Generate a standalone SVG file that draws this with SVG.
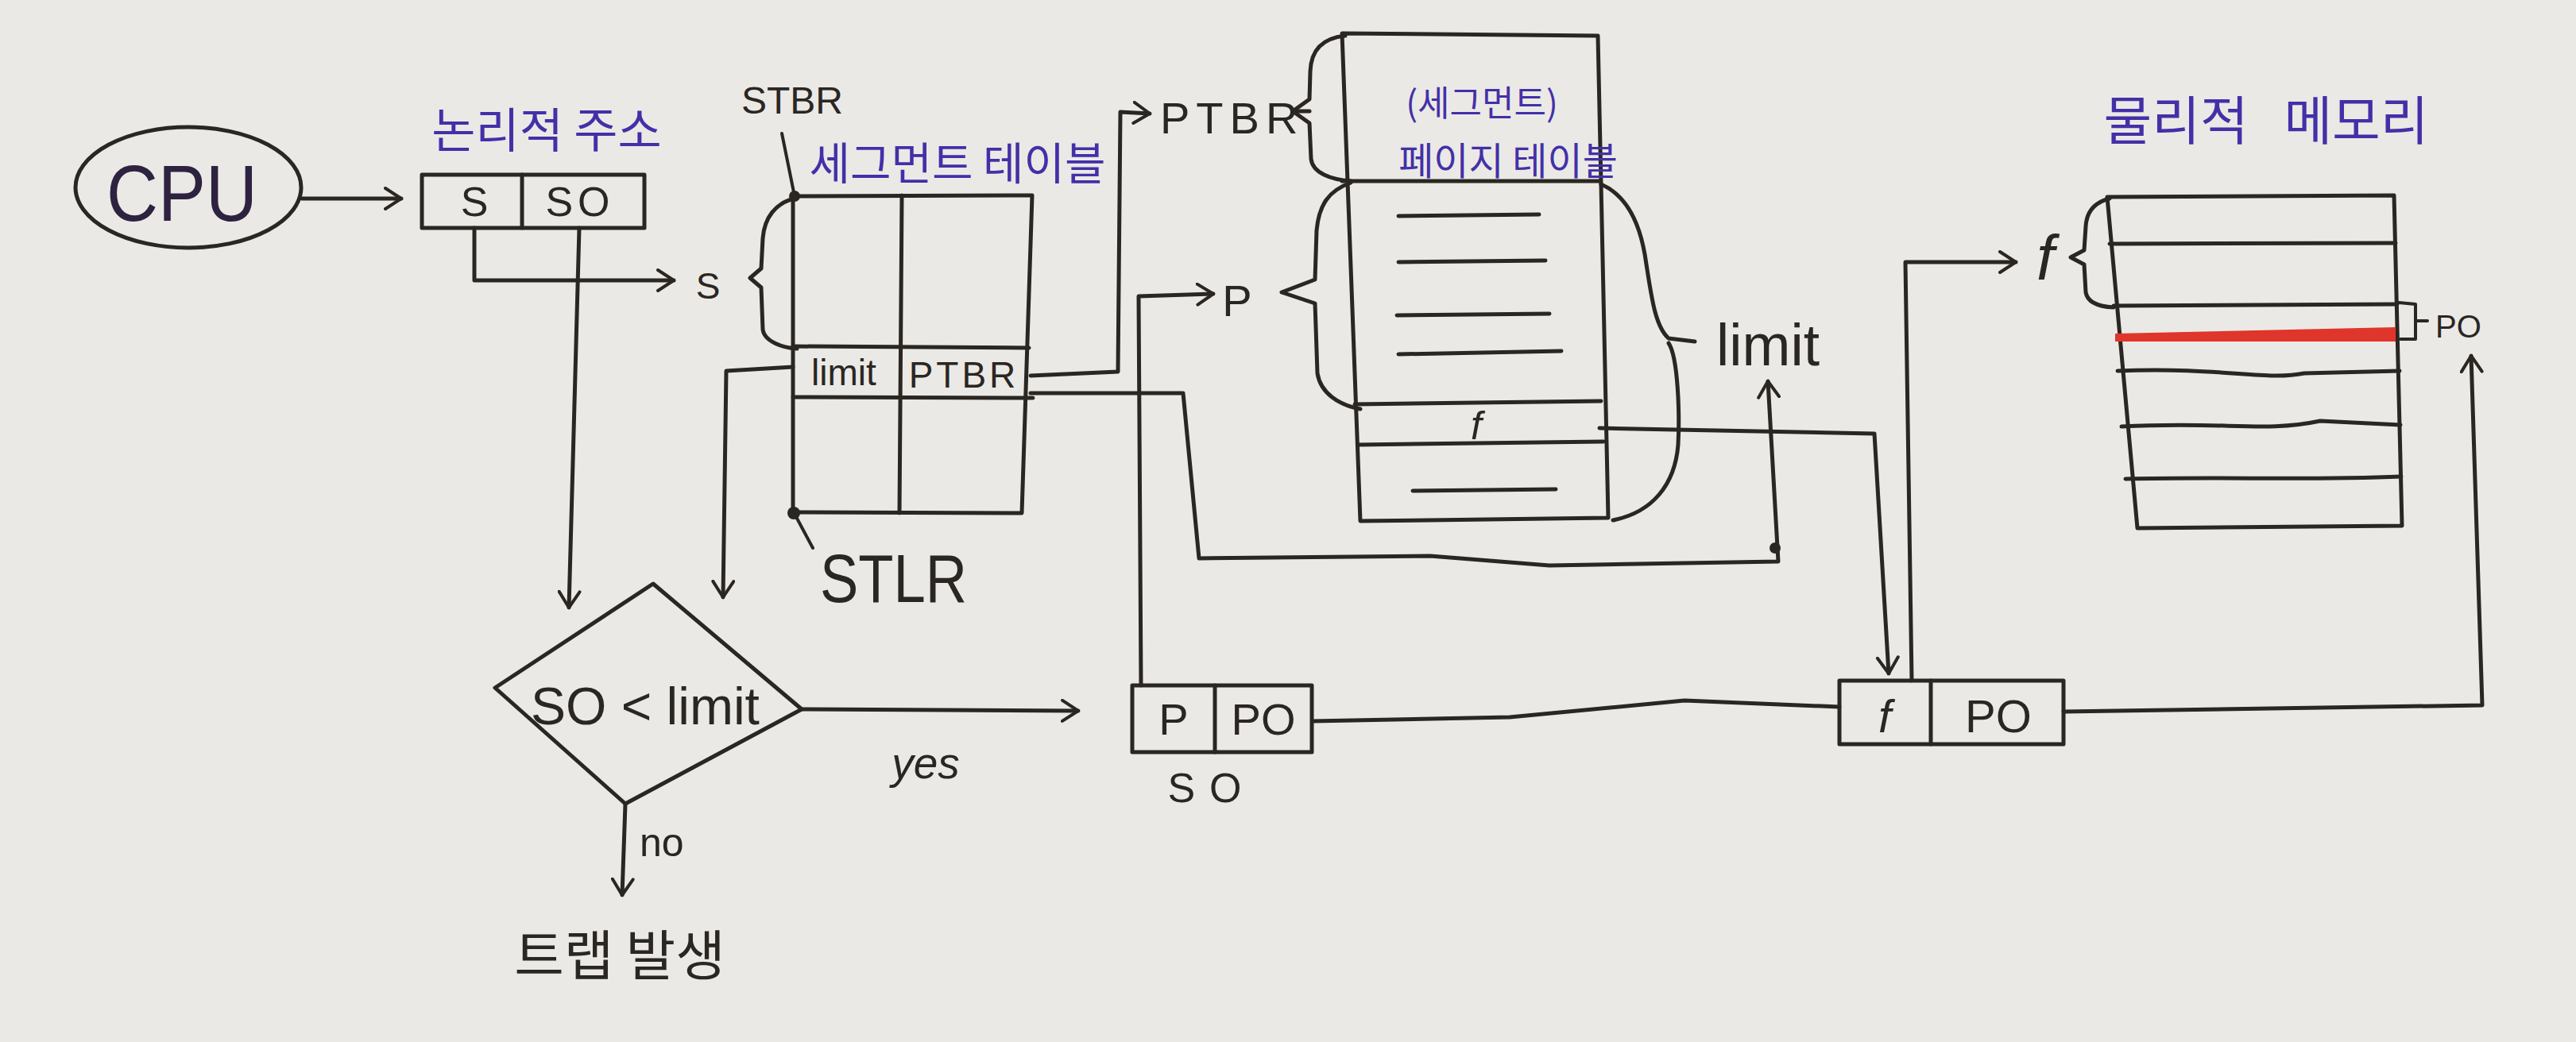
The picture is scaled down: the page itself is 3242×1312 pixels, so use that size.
<svg xmlns="http://www.w3.org/2000/svg" width="3242" height="1312" viewBox="0 0 3242 1312">
<defs>
<style>
.ink{stroke:#2a2622;stroke-width:5;fill:none;stroke-linecap:round;stroke-linejoin:round}
.thin{stroke:#2a2622;stroke-width:4;fill:none;stroke-linecap:round;stroke-linejoin:round}
.t{font-family:"Liberation Sans","Noto Sans CJK KR",sans-serif;fill:#2a2622}
.kb{font-family:"Noto Sans CJK KR","Noto Sans",sans-serif;fill:#2a2622}
.kp{font-family:"Noto Sans CJK KR","Noto Sans",sans-serif;fill:#4330a8}
.dot{fill:#2a2622}
</style>
<marker id="arr" viewBox="0 0 24 30" refX="22" refY="15" markerWidth="24" markerHeight="30" markerUnits="userSpaceOnUse" orient="auto">
<path d="M2,2 L22,15 L2,28" fill="none" stroke="#2a2622" stroke-width="4" stroke-linecap="round" stroke-linejoin="round"/>
</marker>
</defs>
<rect x="0" y="0" width="3242" height="1312" fill="#ebe9e5"/>

<g id="cpu">
<ellipse class="ink" cx="237" cy="236" rx="142" ry="76"/>
<text x="134" y="278" font-family="Liberation Sans, sans-serif" font-size="100" textLength="190" lengthAdjust="spacingAndGlyphs" fill="#2d2340">CPU</text>
</g>

<g id="logical-address">
<text class="kp" x="688" y="186" font-size="60" text-anchor="middle">논리적 주소</text>
<rect class="ink" x="531" y="220" width="280" height="67"/>
<line class="ink" x1="657" y1="220" x2="657" y2="287"/>
<text class="t" x="597" y="272" font-size="52" text-anchor="middle">S</text>
<text class="t" x="730" y="272" font-size="52" text-anchor="middle" letter-spacing="6">SO</text>
</g>

<g id="segment-table">
<text class="t" x="997" y="143" font-size="48" text-anchor="middle">STBR</text>
<text class="kp" x="1205" y="226" font-size="56" text-anchor="middle">세그먼트 테이블</text>
<path class="ink" d="M998,247 L1299,246 L1286,646 L998,645 Z"/>
<line class="ink" x1="1135" y1="246" x2="1132" y2="646"/>
<path class="ink" d="M998,436 L1295,438"/>
<path class="ink" d="M998,500 L1300,501"/>
<text class="t" x="1062" y="485" font-size="46" text-anchor="middle">limit</text>
<text class="t" x="1213" y="488" font-size="46" text-anchor="middle" letter-spacing="4">PTBR</text>
<line class="thin" x1="984" y1="168" x2="1000" y2="247"/>
<circle class="dot" cx="1000" cy="247" r="7"/>
<path class="ink" d="M1003,249 C975,255 962,275 960,300 L958,338 L944,350 L958,362 L960,415 C962,430 985,438 1003,439"/>
<text class="t" x="891" y="376" font-size="46" text-anchor="middle">S</text>
<line class="thin" x1="1023" y1="690" x2="1000" y2="647"/>
<circle class="dot" cx="999" cy="646" r="8"/>
<text class="t" x="1032" y="758" font-size="86" textLength="185" lengthAdjust="spacingAndGlyphs">STLR</text>
</g>

<g id="page-table">
<text class="t" x="1460" y="168" font-size="56" letter-spacing="8">PTBR</text>
<line class="ink" x1="1627" y1="140" x2="1648" y2="140"/>
<text class="t" x="1557" y="398" font-size="56" text-anchor="middle">P</text>
<path class="ink" d="M1693,45 C1665,48 1650,62 1649,90 L1648,125 L1627,140 L1648,155 L1650,200 C1652,218 1675,226 1700,228"/>
<path class="ink" d="M1700,230 C1672,240 1660,258 1657,290 L1655,352 L1613,368 L1655,382 L1658,470 C1662,495 1685,510 1712,515"/>
<path class="ink" d="M1689,42 L2011,45 L2024,652 L1712,656 Z"/>
<line class="ink" x1="1689" y1="228" x2="2013" y2="228"/>
<text class="kp" x="1865" y="146" font-size="44" text-anchor="middle">(세그먼트)</text>
<text class="kp" x="1898" y="220" font-size="48" text-anchor="middle">페이지 테이블</text>
<path class="ink" d="M1760,272 L1937,270"/>
<path class="ink" d="M1760,330 L1945,328"/>
<path class="ink" d="M1758,397 L1950,395"/>
<path class="ink" d="M1760,446 L1965,442"/>
<path class="ink" d="M1705,509 L2015,505"/>
<path class="ink" d="M1709,560 L2018,556"/>
<path class="ink" d="M1778,618 L1958,616"/>
<text class="t" x="1858" y="553" font-size="50" text-anchor="middle" font-style="italic">f</text>
<path class="ink" d="M2015,232 C2045,245 2062,275 2070,320 C2078,370 2082,410 2100,426 L2133,430"/>
<path class="ink" d="M2100,432 C2112,450 2114,520 2112,560 C2108,610 2080,645 2030,655"/>
<text class="t" x="2160" y="460" font-size="74" textLength="130" lengthAdjust="spacingAndGlyphs">limit</text>
</g>

<g id="physical-memory">
<text class="kp" x="2852" y="176" font-size="66" text-anchor="middle" word-spacing="30">물리적 메모리</text>
<path class="ink" d="M2652,248 L3013,246 L3023,662 L2690,665 Z"/>
<path class="ink" d="M2655,307 L3015,306"/>
<path class="ink" d="M2660,385 L3017,383"/>
<path d="M2662,420 L3015,412 L3015,430 L2662,430 Z" fill="#e0352b"/>
<path class="ink" d="M2665,467 C2800,462 2850,480 2900,470 L3020,467"/>
<path class="ink" d="M2670,537 C2800,530 2850,545 2920,530 L3021,535"/>
<path class="ink" d="M2675,603 C2800,600 2900,605 3022,600"/>
<path class="ink" d="M2655,250 C2635,255 2626,268 2625,285 L2623,315 L2606,324 L2623,333 L2625,368 C2627,380 2640,386 2660,387"/>
<text class="t" x="2574" y="352" font-size="80" text-anchor="middle" font-style="italic">f</text>
<path class="thin" d="M3019,381 L3040,383 L3040,427 L3021,427 M3040,404 L3055,404"/>
<text class="t" x="3065" y="425" font-size="40">PO</text>
</g>

<g id="decision">
<polygon class="ink" points="822,735 1009,893 787,1012 623,866"/>
<text class="t" x="812" y="912" font-size="66" text-anchor="middle">SO &lt; limit</text>
</g>

<g id="trap">
<text class="t" x="805" y="1078" font-size="50">no</text>
<text class="kb" x="780" y="1228" font-size="68" text-anchor="middle">트랩 발생</text>
</g>

<g id="ppo-box">
<rect class="ink" x="1425" y="863" width="226" height="84"/>
<line class="ink" x1="1529" y1="863" x2="1529" y2="947"/>
<text class="t" x="1477" y="925" font-size="56" text-anchor="middle">P</text>
<text class="t" x="1590" y="925" font-size="56" text-anchor="middle">PO</text>
<text class="t" x="1525" y="1010" font-size="52" text-anchor="middle" letter-spacing="18">SO</text>
<text class="t" x="1165" y="980" font-size="55" text-anchor="middle" font-style="italic">yes</text>
</g>

<g id="fpo-box">
<rect class="ink" x="2315" y="857" width="282" height="80"/>
<line class="ink" x1="2430" y1="857" x2="2430" y2="937"/>
<text class="t" x="2372" y="922" font-size="58" text-anchor="middle" font-style="italic">f</text>
<text class="t" x="2515" y="922" font-size="58" text-anchor="middle">PO</text>
</g>

<g id="connectors">
<path class="ink" d="M380,250 L505,250" marker-end="url(#arr)"/>
<path class="ink" d="M597,287 L597,353 L848,353" marker-end="url(#arr)"/>
<path class="ink" d="M729,287 L716,765" marker-end="url(#arr)"/>
<path class="ink" d="M998,462 L914,467 L910,752" marker-end="url(#arr)"/>
<path class="ink" d="M787,1012 L783,1127" marker-end="url(#arr)"/>
<path class="ink" d="M1009,893 L1357,895" marker-end="url(#arr)"/>
<path class="ink" d="M1297,473 L1407,468 L1410,141 L1447,143" marker-end="url(#arr)"/>
<path class="ink" d="M1436,863 L1433,373 L1527,370" marker-end="url(#arr)"/>
<path class="ink" d="M1297,495 L1489,495 L1509,703 L1800,700 L1950,712 L2238,707 L2225,480" marker-end="url(#arr)"/>
<circle class="dot" cx="2234" cy="690" r="7"/>
<path class="ink" d="M2013,539 L2359,546 L2377,848" marker-end="url(#arr)"/>
<path class="ink" d="M2406,857 L2398,330 L2537,330" marker-end="url(#arr)"/>
<path class="ink" d="M1652,908 L1900,903 L2120,882 L2315,890"/>
<path class="ink" d="M2597,896 L3124,888 L3110,448" marker-end="url(#arr)"/>
</g>
</svg>
